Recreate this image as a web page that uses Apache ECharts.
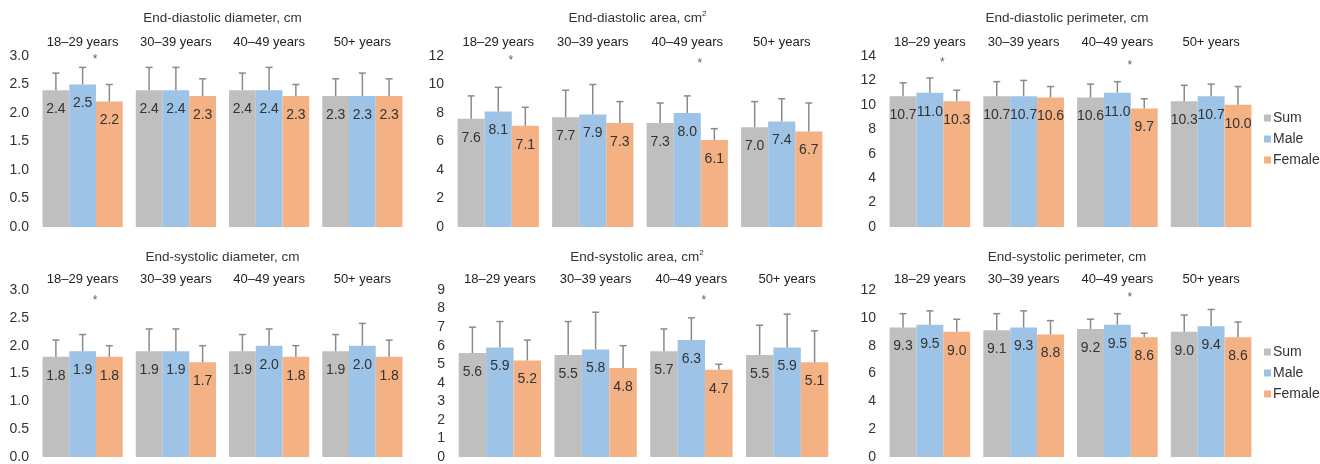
<!DOCTYPE html>
<html><head><meta charset="utf-8">
<script src="https://cdn.jsdelivr.net/npm/echarts@6/dist/echarts.min.js"></script>
<style>html,body{margin:0;padding:0;background:#fff}#c{width:1320px;height:464px}</style>
</head><body><div id="c"></div>
<script>
const categories = ['18–29 years', '30–39 years', '40–49 years', '50+ years'];
const seriesNames = ['Sum', 'Male', 'Female'];

// End-diastolic diameter, cm
const eddSum = [2.4, 2.4, 2.4, 2.3];
const eddMale = [2.5, 2.4, 2.4, 2.3];
const eddFemale = [2.2, 2.3, 2.3, 2.3];
const eddSumSd = [0.3, 0.4, 0.3, 0.3];
const eddMaleSd = [0.3, 0.4, 0.4, 0.4];
const eddFemaleSd = [0.3, 0.3, 0.2, 0.3];
const eddStars = [[0, 2.94]];

// End-diastolic area, cm2
const edaSum = [7.6, 7.7, 7.3, 7.0];
const edaMale = [8.1, 7.9, 8.0, 7.4];
const edaFemale = [7.1, 7.3, 6.1, 6.7];
const edaSumSd = [1.6, 1.9, 1.4, 1.8];
const edaMaleSd = [1.7, 2.1, 1.2, 1.6];
const edaFemaleSd = [1.3, 1.5, 0.8, 2.0];
const edaStars = [[0, 11.7], [2, 11.44]];

// End-diastolic perimeter, cm
const edpSum = [10.7, 10.7, 10.6, 10.3];
const edpMale = [11.0, 10.7, 11.0, 10.7];
const edpFemale = [10.3, 10.6, 9.7, 10.0];
const edpSumSd = [1.1, 1.2, 1.1, 1.3];
const edpMaleSd = [1.2, 1.3, 0.9, 1.0];
const edpFemaleSd = [0.9, 0.9, 0.8, 1.5];
const edpStars = [[0, 13.44], [2, 13.2]];

// End-systolic diameter, cm
const esdSum = [1.8, 1.9, 1.9, 1.9];
const esdMale = [1.9, 1.9, 2.0, 2.0];
const esdFemale = [1.8, 1.7, 1.8, 1.8];
const esdSumSd = [0.3, 0.4, 0.3, 0.3];
const esdMaleSd = [0.3, 0.4, 0.3, 0.4];
const esdFemaleSd = [0.2, 0.3, 0.2, 0.3];
const esdStars = [[0, 2.8]];

// End-systolic area, cm2
const esaSum = [5.6, 5.5, 5.7, 5.5];
const esaMale = [5.9, 5.8, 6.3, 5.9];
const esaFemale = [5.2, 4.8, 4.7, 5.1];
const esaSumSd = [1.4, 1.8, 1.2, 1.6];
const esaMaleSd = [1.4, 2.0, 1.2, 1.8];
const esaFemaleSd = [1.1, 1.2, 0.3, 1.7];
const esaStars = [[2, 8.4]];

// End-systolic perimeter, cm
const espSum = [9.3, 9.1, 9.2, 9.0];
const espMale = [9.5, 9.3, 9.5, 9.4];
const espFemale = [9.0, 8.8, 8.6, 8.6];
const espSumSd = [1.0, 1.2, 0.7, 1.2];
const espMaleSd = [1.0, 1.2, 0.8, 1.2];
const espFemaleSd = [0.9, 1.0, 0.3, 1.1];
const espStars = [[2, 11.47]];

const yMax = [3, 12, 14, 3, 9, 12];
const yInterval = [0.5, 2, 2, 0.5, 1, 2];
const yDecimals = [1, 0, 0, 1, 0, 0];

const titles = [
  'End-diastolic diameter, cm',
  'End-diastolic area, cm{sup|2}',
  'End-diastolic perimeter, cm',
  'End-systolic diameter, cm',
  'End-systolic area, cm{sup|2}',
  'End-systolic perimeter, cm'
];

const FONT = "'Liberation Sans', Arial, Helvetica, sans-serif";
const colors = ['#bfbfbf', '#9dc3e6', '#f4b183'];
const gap = 0.14;

const panelData = [
  [eddSum, eddMale, eddFemale, eddSumSd, eddMaleSd, eddFemaleSd, eddStars],
  [edaSum, edaMale, edaFemale, edaSumSd, edaMaleSd, edaFemaleSd, edaStars],
  [edpSum, edpMale, edpFemale, edpSumSd, edpMaleSd, edpFemaleSd, edpStars],
  [esdSum, esdMale, esdFemale, esdSumSd, esdMaleSd, esdFemaleSd, esdStars],
  [esaSum, esaMale, esaFemale, esaSumSd, esaMaleSd, esaFemaleSd, esaStars],
  [espSum, espMale, espFemale, espSumSd, espMaleSd, espFemaleSd, espStars]
];

const grids = [
  {left: 36, top: 56, width: 373, height: 171},
  {left: 451, top: 56, width: 378, height: 171},
  {left: 883, top: 56, width: 375, height: 171},
  {left: 36, top: 290, width: 373, height: 172},
  {left: 452, top: 290, width: 383, height: 172},
  {left: 883, top: 290, width: 375, height: 172}
];
const titleCenters = [222.5, 637.5, 1067, 222.5, 637, 1067];
const titleTops = [10, 10, 10, 249, 249, 249];

const option = {
  animation: false,
  backgroundColor: '#fff',
  textStyle: {fontFamily: FONT},
  title: titles.map((t, i) => ({
    text: t,
    left: titleCenters[i],
    top: titleTops[i],
    textAlign: 'center',
    padding: 0,
    textStyle: {
      fontFamily: FONT, fontSize: 13.5, fontWeight: 'normal', color: '#333', lineHeight: 16,
      rich: {sup: {fontFamily: FONT, fontSize: 8, color: '#333', verticalAlign: 'top', lineHeight: 16, padding: [0, 0, 6, 0]}}
    }
  })),
  legend: [0, 1].map(r => ({
    data: seriesNames,
    orient: 'vertical',
    left: 1259,
    top: r === 0 ? 106 : 340,
    itemWidth: 7,
    itemHeight: 7,
    itemGap: 7,
    icon: 'rect',
    textStyle: {fontFamily: FONT, fontSize: 14, color: '#333', padding: [0, 0, 0, -3]}
  })),
  grid: grids,
  xAxis: grids.map((g, i) => ({
    type: 'category',
    gridIndex: i,
    data: categories,
    position: 'top',
    axisLine: {show: false},
    axisTick: {show: false},
    axisLabel: {fontFamily: FONT, fontSize: 13, color: '#222', margin: i < 3 ? 7 : 4}
  })),
  yAxis: grids.map((g, i) => ({
    type: 'value',
    gridIndex: i,
    min: 0,
    max: yMax[i],
    interval: yInterval[i],
    axisLine: {show: false},
    axisTick: {show: false},
    splitLine: {show: false},
    axisLabel: {
      fontFamily: FONT, fontSize: 14, color: '#333', margin: 7,
      formatter: v => v.toFixed(yDecimals[i])
    }
  })),
  series: []
};

panelData.forEach((pd, i) => {
  for (let k = 0; k < 3; k++) {
    option.series.push({
      type: 'bar',
      name: seriesNames[k],
      xAxisIndex: i,
      yAxisIndex: i,
      data: pd[k],
      barGap: '0%',
      barCategoryGap: (gap * 100) + '%',
      itemStyle: {color: colors[k]},
      label: {
        show: true,
        position: 'insideTop',
        distance: 12,
        fontFamily: FONT,
        fontSize: 14,
        color: '#333',
        formatter: p => p.value.toFixed(1)
      },
      z: 2
    });
  }
  const errData = [];
  for (let k = 0; k < 3; k++) {
    pd[k].forEach((v, c) => errData.push([c, v, pd[k + 3][c], k]));
  }
  option.series.push({
    type: 'custom',
    name: 'err' + i,
    xAxisIndex: i,
    yAxisIndex: i,
    data: errData,
    encode: {x: 0, y: 1},
    z: 5,
    silent: true,
    renderItem: (params, api) => {
      const c = api.value(0), v = api.value(1), sd = api.value(2), k = api.value(3);
      const bw = api.size([1, 0])[0] * (1 - gap) / 3;
      const p0 = api.coord([c, v]);
      const p1 = api.coord([c, v + sd]);
      const x = p0[0] + (k - 1) * bw;
      const st = {stroke: '#8a8a8a', lineWidth: 1.5};
      return {
        type: 'group',
        children: [
          {type: 'line', shape: {x1: x, y1: p0[1], x2: x, y2: p1[1]}, style: st},
          {type: 'line', shape: {x1: x - 3.5, y1: p1[1], x2: x + 3.5, y2: p1[1]}, style: st}
        ]
      };
    }
  });
  option.series.push({
    type: 'scatter',
    name: 'stars' + i,
    xAxisIndex: i,
    yAxisIndex: i,
    data: pd[6],
    symbolSize: 1,
    itemStyle: {color: 'rgba(0,0,0,0)'},
    silent: true,
    z: 6,
    label: {
      show: true,
      position: 'inside',
      offset: [12.5, 0],
      formatter: '*',
      fontFamily: FONT,
      fontSize: 12,
      color: '#333'
    }
  });
});

const chart = echarts.init(document.getElementById('c'), null, {renderer: 'canvas'});
chart.setOption(option);
</script>
</body></html>
